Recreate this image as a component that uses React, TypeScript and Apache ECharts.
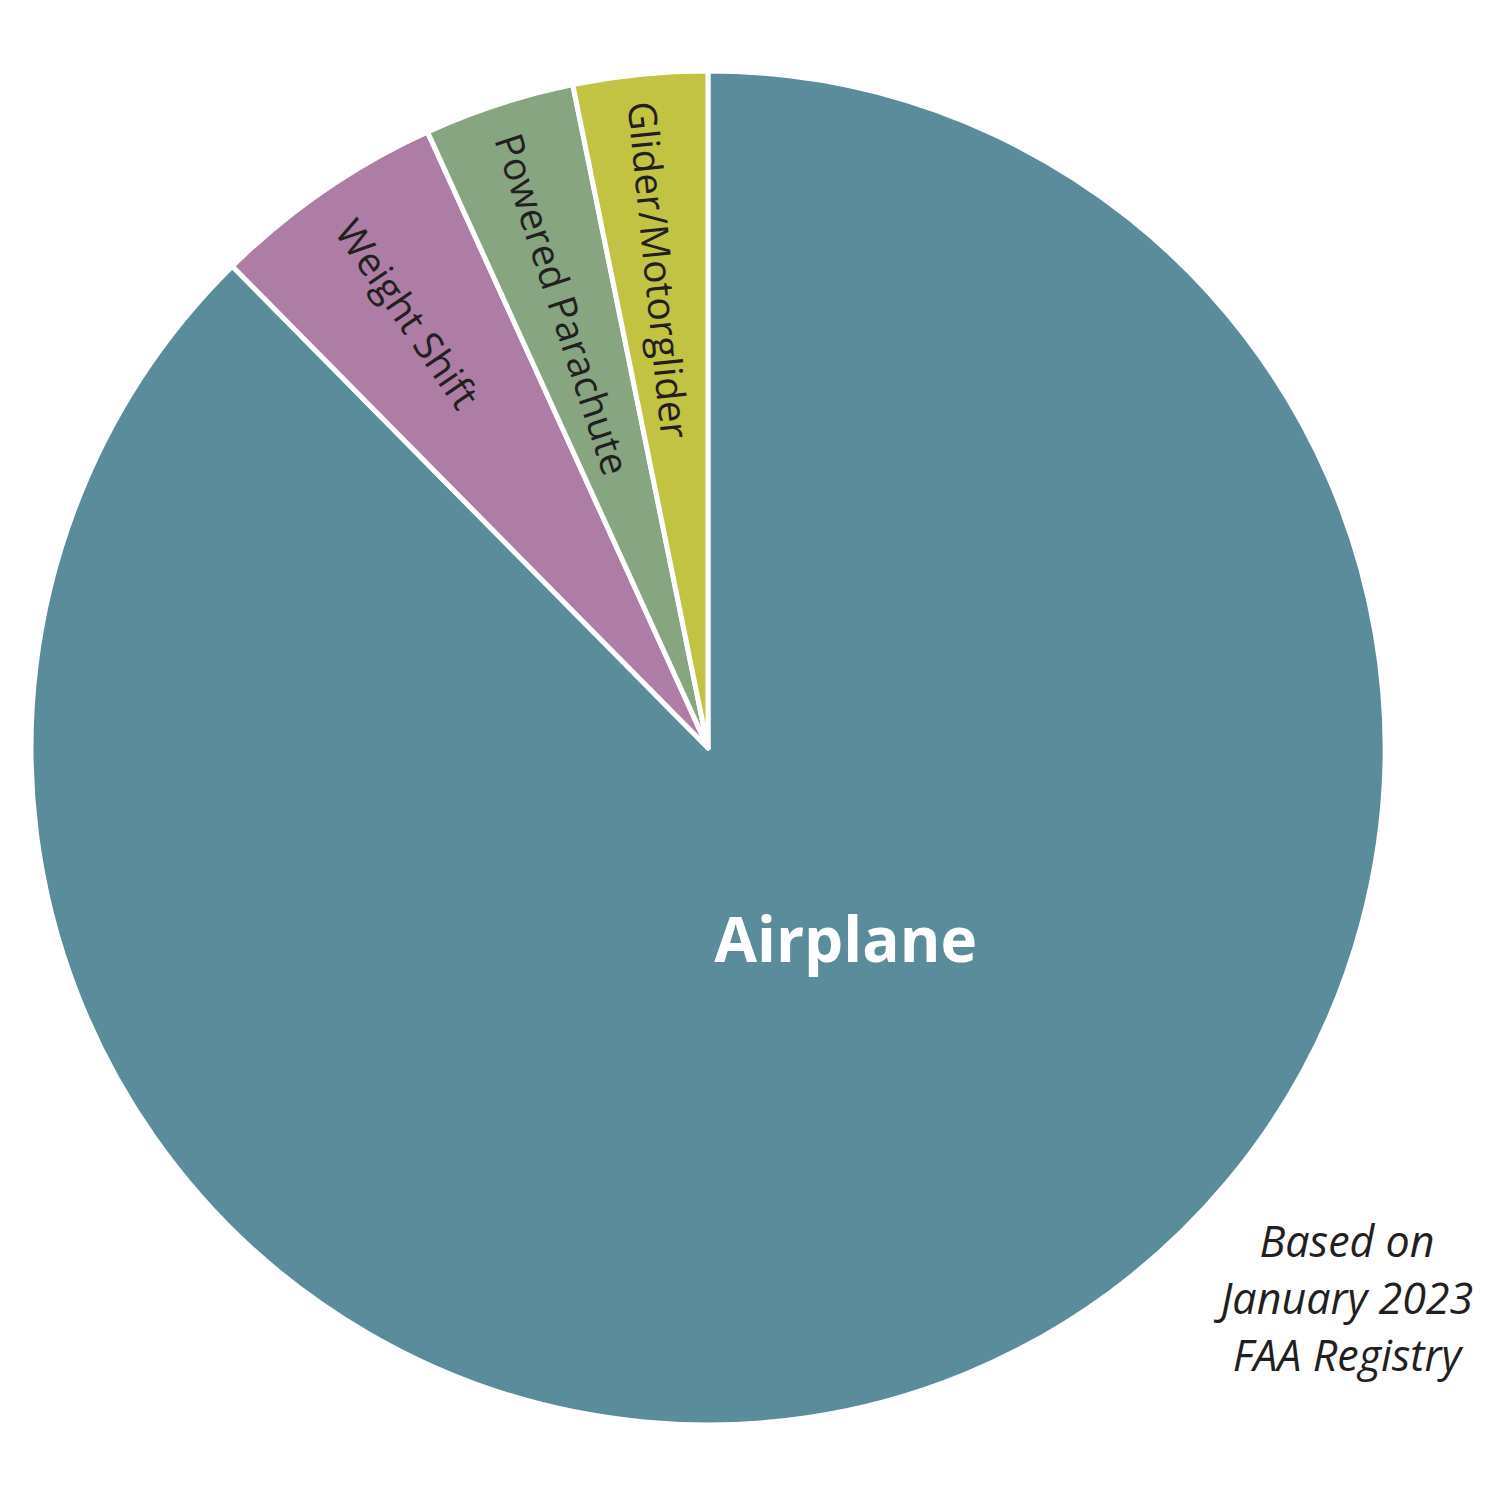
import React, { useEffect, useRef } from "react";
import * as echarts from "echarts";

const categories = ["Airplane", "Weight Shift", "Powered Parachute", "Glider/Motorglider"];
const shares = [87.6, 5.6, 3.6, 3.2];
const sliceColors = ["#5B8C9B", "#AD7DA5", "#87A581", "#C2C243"];
const noteLines = ["Based on", "January 2023", "FAA Registry"];

// layout constants
const CX = 708;
const CY = 748;
const R = 677;
const labelRadiusFrac = [0.5, 0.78, 0.69, 0.71];

export default function App() {
  const ref = useRef<HTMLDivElement>(null);
  useEffect(() => {
    if (!ref.current) return;
    const chart = echarts.init(ref.current, undefined, { renderer: "svg" });
    const total = shares.reduce((a, b) => a + b, 0);
    const option: any = {
      animation: false,
      backgroundColor: "#ffffff",
      series: [
        {
          type: "pie",
          center: [CX, CY],
          radius: [0, R],
          startAngle: 90,
          clockwise: true,
          silent: true,
          emphasis: { disabled: true },
          itemStyle: { borderColor: "#ffffff", borderWidth: 5, borderJoin: "round" },
          labelLine: { show: false },
          data: categories.map((name, i) => ({
            name,
            value: shares[i],
            itemStyle: { color: sliceColors[i] },
            label:
              i === 0
                ? {
                    show: true,
                    position: "inside",
                    rotate: 0,
                    formatter: "{b}",
                    color: "#ffffff",
                    fontFamily: "Open Sans",
                    fontWeight: "bold",
                    fontSize: 62,
                  }
                : {
                    show: true,
                    position: "inside",
                    rotate: "radial",
                    formatter: "{b}",
                    color: "#231F20",
                    fontFamily: "Open Sans",
                    fontSize: 39,
                  },
          })),
          labelLayout: (params: any) => {
            const i = params.dataIndex;
            if (i === 0) return { dx: 8, dy: -126 };
            let start = 0;
            for (let k = 0; k < i; k++) start += shares[k];
            const theta = ((start + shares[i] / 2) / total) * 2 * Math.PI;
            const rr = R * labelRadiusFrac[i];
            return { x: CX + rr * Math.sin(theta), y: CY - rr * Math.cos(theta) };
          },
        },
      ],
      graphic: noteLines.map((t, i) => ({
        type: "text",
        x: 1347,
        y: 1240 + i * 57,
        style: {
          text: t,
          fill: "#231F20",
          font: "italic 43px 'Open Sans'",
          textAlign: "center",
          textVerticalAlign: "middle",
        },
      })),
    };
    chart.setOption(option);
    return () => chart.dispose();
  }, []);
  return (
    <div
      ref={ref}
      style={{ position: "fixed", left: 0, top: 0, width: 1500, height: 1499, background: "#fff" }}
    />
  );
}
